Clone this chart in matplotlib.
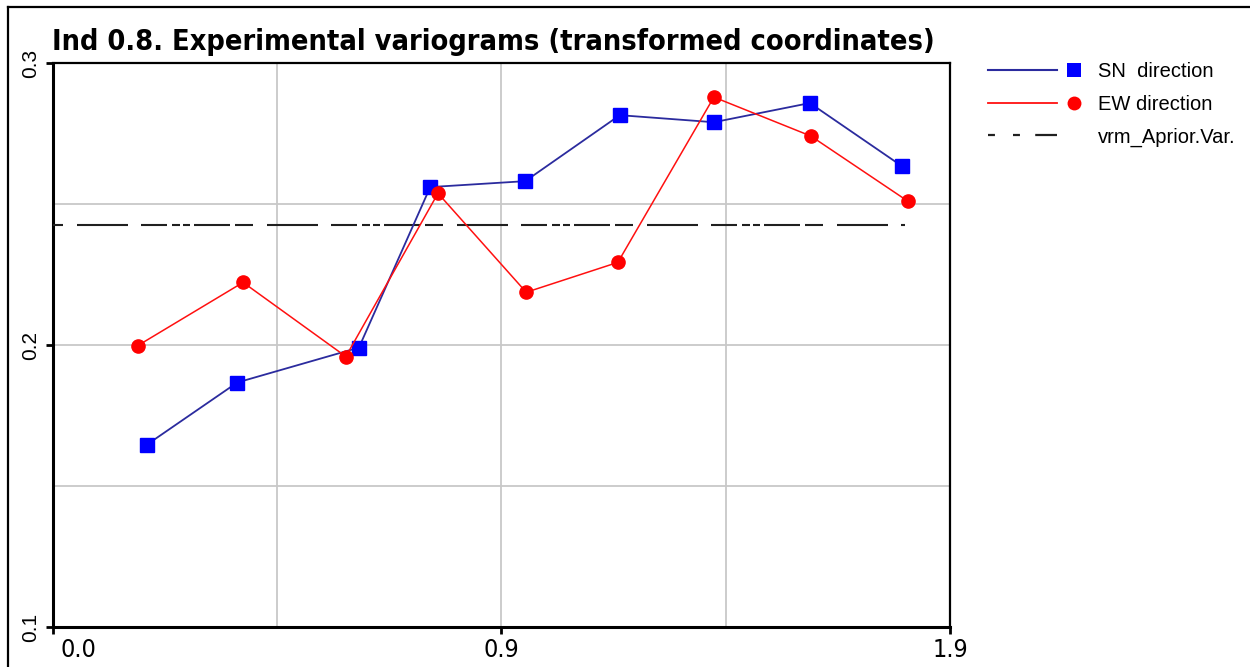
import matplotlib
matplotlib.use("Agg")
import matplotlib.pyplot as plt
import matplotlib.transforms as mtransforms
from matplotlib.lines import Line2D
from matplotlib.legend_handler import HandlerBase
from matplotlib import font_manager

plt.rcParams['lines.scale_dashes'] = False

# lag distances and variogram values
sn_lag = [0.194, 0.380, 0.631, 0.778, 0.974, 1.169, 1.363, 1.561, 1.751]
sn_gamma = [0.1647, 0.1867, 0.1991, 0.2560, 0.2581, 0.2815, 0.2790, 0.2858, 0.2634]
ew_lag = [0.175, 0.392, 0.604, 0.794, 0.976, 1.165, 1.363, 1.563, 1.763]
ew_gamma = [0.1998, 0.2222, 0.1959, 0.2538, 0.2187, 0.2293, 0.2879, 0.2741, 0.2510]
apriori_lag = [0.0, 1.757]
apriori_var = 0.2425

x_max = 1.85
x_major = [0.0, 0.925, 1.85]
x_minor = [0.4625, 1.3875]
x_labels = ['0.0', '0.9', '1.9']
y_major = [0.1, 0.2, 0.3]
y_minor = [0.15, 0.25]
y_labels = ['0.1', '0.2', '0.3']

title = 'Ind 0.8. Experimental variograms (transformed coordinates)'
labels = ['SN  direction', 'EW direction', 'vrm_Aprior.Var.']

# look for a condensed face, the original uses an Arial Narrow look
cond = [f for f in font_manager.fontManager.ttflist
        if f.stretch in ('condensed', 'semi-condensed', 'extra-condensed')
        or 'Narrow' in f.name or 'Condensed' in f.name]
have_cond = len(cond) > 0
narrow = ['Liberation Sans Narrow', 'DejaVu Sans']
plain = ['Liberation Sans', 'DejaVu Sans']

# irregular dash-dot pattern of the a priori variance line (pixels -> points)
px = 0.72
dash_seq = [v * px for v in [51, 13, 26, 5, 8, 3, 7, 4, 36, 5, 18, 14]]
dash_off = 166 * px


class LineMarkerHandler(HandlerBase):
    # line on the left, marker to its right, like the original legend
    def create_artists(self, legend, orig_handle, xdescent, ydescent,
                       width, height, fontsize, trans):
        y = height / 2 - ydescent
        x0 = -xdescent
        ln = Line2D([x0, x0 + width * 0.76], [y, y])
        ln.update_from(orig_handle)
        ln.set_marker('None')
        ln.set_transform(trans)
        arts = [ln]
        if orig_handle.get_marker() not in (None, 'None', '', ' '):
            mk = Line2D([x0 + width * 0.945], [y], linestyle='None',
                        marker=orig_handle.get_marker(),
                        markersize=orig_handle.get_markersize(),
                        color=orig_handle.get_markerfacecolor(),
                        markeredgewidth=0)
            mk.set_transform(trans)
            arts.append(mk)
        return arts


fig = plt.figure(figsize=(12.5, 6.67), dpi=100)
ax = fig.add_axes([53 / 1250, 1 - 627 / 667, 897 / 1250, 564 / 667])

ax.plot(sn_lag, sn_gamma, color='#2b2b9e', lw=1.3, marker='s', ms=10,
        mfc='#0000ff', mec='#0000ff', zorder=4)
ax.plot(ew_lag, ew_gamma, color='#ff1010', lw=1.1, marker='o', ms=9.5,
        mfc='#ff0000', mec='#ff0000', zorder=4)
ax.plot(apriori_lag, [apriori_var, apriori_var], color='#202020', lw=1.5,
        linestyle=(dash_off, dash_seq), zorder=3)

ax.set_xlim(0, x_max)
ax.set_ylim(0.1, 0.3)
ax.set_xticks(x_major)
ax.set_xticks(x_minor, minor=True)
ax.set_yticks(y_major)
ax.set_yticks(y_minor, minor=True)
ax.set_xticklabels(x_labels, fontfamily=narrow, fontstretch='condensed',
                   fontsize=18 if have_cond else 15)
ax.set_yticklabels(y_labels, fontfamily=plain, fontsize=15, rotation=90,
                   va='center')
ax.tick_params(which='major', direction='out', length=5, width=2,
               color='black', pad=3)
ax.tick_params(axis='y', which='major', pad=4)
ax.tick_params(which='minor', length=0)
ax.grid(True, which='both', color='#c8c8c8', lw=1.3)
ax.set_axisbelow(True)

# first x label sits a little to the right of its tick
lab0 = ax.get_xticklabels()[0]
lab0.set_transform(lab0.get_transform() +
                   mtransforms.ScaledTranslation(25 / 100, 0, fig.dpi_scale_trans))

for side in ['left', 'bottom']:
    ax.spines[side].set_linewidth(2.2)
for side in ['top', 'right']:
    ax.spines[side].set_linewidth(1.6)

fig.text(52 / 1250, 1 - 50 / 667, title, fontfamily=narrow,
         fontstretch='condensed', fontsize=20.7 if have_cond else 20.5,
         fontweight='bold', ha='left', va='baseline')

handles = [
    Line2D([], [], color='#2b2b9e', lw=1.5, marker='s', ms=10, mfc='#0000ff'),
    Line2D([], [], color='#ff1010', lw=1.3, marker='o', ms=10, mfc='#ff0000'),
    Line2D([], [], color='#202020', lw=1.6,
           linestyle=(0, [5, 13, 5, 11, 17, 100])),
]
fig.legend(handles, labels, loc='upper left',
           bbox_to_anchor=(988 / 1250, 1 - 62 / 667),
           handler_map={Line2D: LineMarkerHandler()},
           frameon=False, borderpad=0, borderaxespad=0,
           handlelength=4.5, handletextpad=0.95, labelspacing=0.68,
           prop={'family': plain, 'size': 14.5})

# window frame on the top and left edges
fig.add_artist(Line2D([8 / 1250, 1], [1 - 7 / 667, 1 - 7 / 667],
                      color='black', lw=1.6, transform=fig.transFigure))
fig.add_artist(Line2D([8 / 1250, 8 / 1250], [0, 1 - 7 / 667],
                      color='black', lw=1.6, transform=fig.transFigure))

fig.savefig('out.png', dpi=100)
